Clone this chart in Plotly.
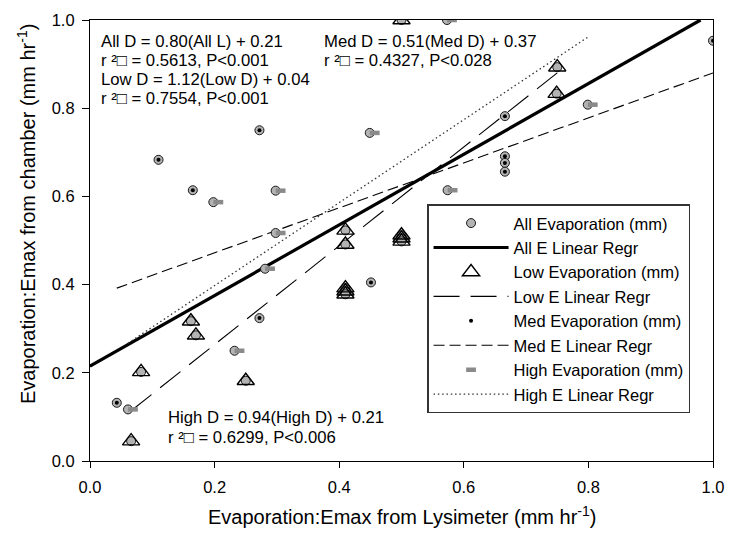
import plotly.graph_objects as go

# ---- data ----
low_x = [0.066, 0.082, 0.162, 0.170, 0.250, 0.410, 0.410, 0.410, 0.410, 0.410,
         0.500, 0.500, 0.500, 0.500, 0.750, 0.749]
low_y = [0.045, 0.202, 0.317, 0.285, 0.182, 0.523, 0.491, 0.392, 0.385, 0.378,
         0.512, 0.505, 0.498, 1.000, 0.893, 0.833]

med_x = [0.043, 0.110, 0.165, 0.272, 0.272, 0.451, 0.666, 0.666, 0.666, 0.666, 1.000]
med_y = [0.132, 0.683, 0.614, 0.750, 0.324, 0.405, 0.782, 0.691, 0.676, 0.656, 0.953]

high_x = [0.061, 0.198, 0.232, 0.281, 0.298, 0.298, 0.449, 0.573, 0.574, 0.799]
high_y = [0.117, 0.587, 0.250, 0.436, 0.613, 0.517, 0.744, 1.000, 0.614, 0.808]

all_x = low_x + med_x + high_x
all_y = low_y + med_y + high_y

# regression line end points
fit_all_x = [0.0, 0.98]
fit_all_y = [0.215, 1.0]
fit_low_x = [0.066, 0.750]
fit_low_y = [0.114, 0.880]
fit_med_x = [0.043, 1.000]
fit_med_y = [0.392, 0.880]
fit_high_x = [0.061, 0.800]
fit_high_y = [0.267, 0.962]

tick_vals = [0.0, 0.2, 0.4, 0.6, 0.8, 1.0]
tick_text = ["0.0", "0.2", "0.4", "0.6", "0.8", "1.0"]

eq_all = ["All D = 0.80(All L) + 0.21", "r \u00b2\u25a1 = 0.5613, P<0.001",
          "Low D = 1.12(Low D) + 0.04", "r \u00b2\u25a1 = 0.7554, P<0.001"]
eq_med = ["Med D = 0.51(Med D) + 0.37", "r \u00b2\u25a1 = 0.4327, P<0.028"]
eq_high = ["High D = 0.94(High D) + 0.21", "r \u00b2\u25a1 = 0.6299, P<0.006"]

FONT = "Arial, Liberation Sans, sans-serif"

fig = go.Figure()

# regression lines (drawn first, below markers)
fig.add_trace(go.Scatter(x=fit_all_x, y=fit_all_y, mode="lines", name="All E Linear Regr",
                         line=dict(color="black", width=3.2), legendrank=2))
fig.add_trace(go.Scatter(x=fit_low_x, y=fit_low_y, mode="lines", name="Low E Linear Regr",
                         line=dict(color="black", width=1.1, dash="26px,11px"), legendrank=4))
fig.add_trace(go.Scatter(x=fit_med_x, y=fit_med_y, mode="lines", name="Med E Linear Regr",
                         line=dict(color="black", width=1.1, dash="11px,5px"), legendrank=6))
fig.add_trace(go.Scatter(x=fit_high_x, y=fit_high_y, mode="lines", name="High E Linear Regr",
                         line=dict(color="#333333", width=1.3, dash="1.5px,2.8px"), legendrank=8))

# High markers (grey bars, drawn behind the circles, slightly to the right)
fig.add_trace(go.Scatter(x=high_x, y=high_y, mode="markers", name="High Evaporation (mm)",
                         xaxis="x2",
                         marker=dict(symbol="line-ew", size=7,
                                     line=dict(width=4.5, color="#8a8a8a")),
                         legendrank=7))
# All markers
fig.add_trace(go.Scatter(x=all_x, y=all_y, mode="markers", name="All Evaporation (mm)",
                         marker=dict(symbol="circle", size=9, color="#b3b3b3",
                                     line=dict(width=1, color="#1a1a1a")),
                         legendrank=1))
# Low markers
fig.add_trace(go.Scatter(x=low_x, y=low_y, mode="markers", name="Low Evaporation (mm)",
                         marker=dict(symbol="triangle-up-open", size=15, color="black",
                                     line=dict(width=1.4, color="black")),
                         legendrank=3))
# Med markers
fig.add_trace(go.Scatter(x=med_x, y=med_y, mode="markers", name="Med Evaporation (mm)",
                         marker=dict(symbol="circle", size=4, color="black"),
                         legendrank=5))

annos = []
def add_lines(lines, x, ys):
    for t, y in zip(lines, ys):
        annos.append(dict(text=t, x=x, y=y, xref="paper", yref="paper",
                          xanchor="left", yanchor="middle", showarrow=False,
                          borderpad=0,
                          font=dict(size=16.7, color="black", family=FONT)))

add_lines(eq_all, 0.016, [0.951, 0.908, 0.865, 0.822])
add_lines(eq_med, 0.374, [0.951, 0.908])
add_lines(eq_high, 0.124, [0.098, 0.054])

annos.append(dict(text="Evaporation:Emax from Lysimeter (mm hr<sup>-1</sup>)",
                  x=0.5016, y=-0.124, xref="paper", yref="paper",
                  xanchor="center", yanchor="middle", showarrow=False,
                  font=dict(size=20, color="black", family=FONT)))
annos.append(dict(text="Evaporation:Emax from chamber (mm hr<sup>-1</sup>)",
                  x=-0.1028, y=0.56, xref="paper", yref="paper", textangle=-90,
                  xanchor="center", yanchor="middle", showarrow=False,
                  font=dict(size=20, color="black", family=FONT)))

axis_common = dict(range=[0, 1], tickvals=tick_vals, ticktext=tick_text,
                   ticks="outside", tickcolor="black", tickwidth=1,
                   showline=True, linecolor="black", linewidth=1.2, mirror=True,
                   showgrid=False, zeroline=False,
                   tickfont=dict(size=16.5, color="black", family=FONT))

fig.update_layout(
    width=735, height=533,
    margin=dict(l=90, r=13, t=11, b=72),
    paper_bgcolor="white", plot_bgcolor="white",
    font=dict(family=FONT, color="black"),
    xaxis=dict(**axis_common, ticklen=6, ticklabelstandoff=5),
    xaxis2=dict(range=[-0.008, 0.992], overlaying="x", visible=False, anchor="y"),
    yaxis=dict(**axis_common, ticklen=7, ticklabelstandoff=4),
    annotations=annos,
    legend=dict(x=0.541, y=0.582, xanchor="left", yanchor="top",
                bordercolor="#333333", borderwidth=1.5, bgcolor="white",
                font=dict(size=16.5, color="black", family=FONT),
                itemwidth=75, tracegroupgap=0),
    showlegend=True,
)

fig.write_html("out.html")
